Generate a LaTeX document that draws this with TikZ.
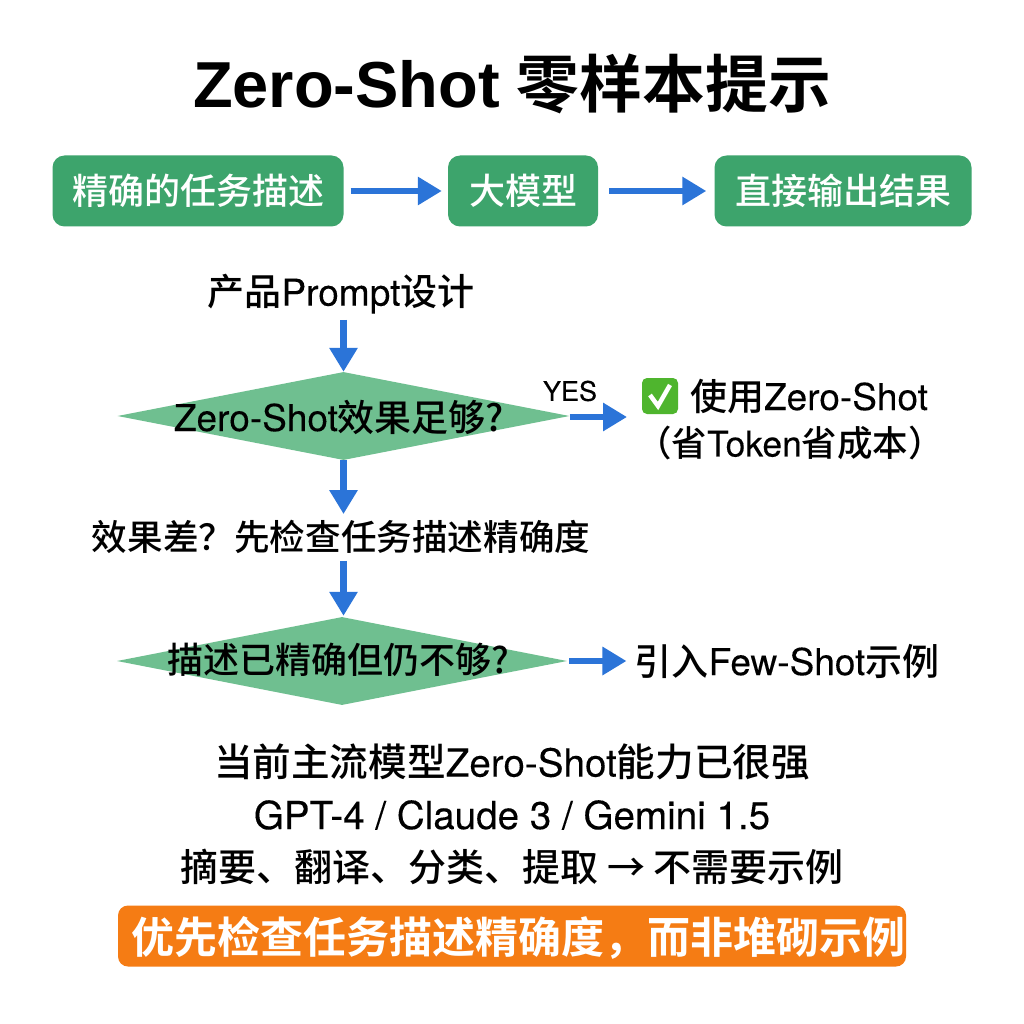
\documentclass[tikz,border=0pt]{standalone}
\usepackage{fontspec}
\setmainfont{Noto Sans CJK SC Medium}
\newfontfamily\lat{TeX Gyre Heros}[FakeBold=0.15]
\newfontfamily\latb{Liberation Sans Bold}
\newfontfamily\cjkb{Noto Sans CJK SC Bold}
\usetikzlibrary{shapes.geometric,arrows.meta}
\definecolor{gr}{HTML}{3DA46C}
\definecolor{lg}{HTML}{6FBF90}
\definecolor{bl}{HTML}{2B74D8}
\definecolor{og}{HTML}{F57C14}
\definecolor{ck}{HTML}{4FB52E}
\tikzset{
 box/.style={fill=gr,rounded corners=12pt,text=white,font=\fontsize{36}{36}\selectfont,inner sep=0pt,anchor=center},
 dia/.style={diamond,fill=lg,inner sep=0pt,aspect=5.11},
 txt/.style={inner sep=0pt,font=\fontsize{36}{36}\selectfont,anchor=center},
 wid/.style={inner sep=0pt,font=\fontsize{37}{37}\selectfont,anchor=center},
 low/.style={inner sep=0pt,font=\fontsize{38.6}{38.6}\selectfont,anchor=center},
 arr/.style={draw=bl,line width=6.5pt,-{Triangle[length=24pt,width=27pt,fill=bl]}}
}
\begin{document}
\begin{tikzpicture}[x=1pt,y=-1pt]
\useasboundingbox (0,0) rectangle (1024,1024);
\fill[white] (0,0) rectangle (1024,1024);
\node[txt,font=\fontsize{65}{65}\selectfont] (title) at (512,84) {{\latb Zero-Shot}\hspace{17pt}{\cjkb\fontsize{62.8}{62.8}\selectfont 零样本提示}};
\node[box,minimum width=291pt,minimum height=71pt] (a) at (198,191) {精确的任务描述};
\node[box,minimum width=150pt,minimum height=71pt] (b) at (523,191) {大模型};
\node[box,minimum width=257pt,minimum height=71pt] (c) at (843,191) {直接输出结果};
\draw[arr,shorten <=7pt,shorten >=6pt] (a) -- (b);
\draw[arr,shorten <=11pt,shorten >=8pt] (b) -- (c);
\node[wid] (p) at (341,294) {产品{\lat Prompt}设计};
\node[dia,minimum width=452pt,minimum height=88pt] (d1) at (343.5,416) {};
\node[wid] (d1t) at (339,417) {{\lat Zero-Shot}效果足够?};
\draw[arr,shorten <=6pt] (d1.north |- p.south) -- (d1.north);
\node[inner sep=0pt,font=\fontsize{27}{27}\selectfont\lat] (yes) at (570,391) {YES};
\node[wid] (u1) at (809,396) {使用{\lat Zero-Shot}};
\node[txt,font=\fontsize{35.5}{35.5}\selectfont] (u2) at (790,443) {（省{\lat Token}省成本）};
\coordinate (e1) at (627,417);
\draw[arr] (d1.east |- e1) -- (e1);
\fill[ck,rounded corners=5pt] (642,378) rectangle (678,414);
\draw[white,line width=4.5pt] (650,395) -- (658,406) -- (670,385);
\node[txt,font=\fontsize{35.6}{35.6}\selectfont] (q) at (341,537) {效果差？先检查任务描述精确度};
\draw[arr,shorten >=6pt,shorten <=0pt] (d1.south) -- (d1.south |- q.north);
\node[dia,minimum width=450pt,minimum height=88pt] (d2) at (342,661) {};
\node[txt] (d2t) at (338,660) {描述已精确但仍不够?};
\draw[arr,shorten <=7pt,shorten >=1pt] (d1.south |- q.south) -- (d1.south |- d2.north);
\node[wid] (f) at (787,661) {引入{\lat Few-Shot}示例};
\draw[arr,shorten <=2pt,shorten >=8pt] (d2.east) -- (f.west |- d2.east);
\node[low] (l1) at (512,762) {当前主流模型{\lat Zero-Shot}能力已很强};
\node[low] (l2) at (512,815) {\lat GPT-4 / Claude 3 / Gemini 1.5};
\node[low,font=\fontsize{38}{38}\selectfont] (l3) at (512,867) {摘要、翻译、分类、提取 → 不需要示例};
\node[fill=og,rounded corners=10pt,minimum width=788pt,minimum height=61pt,inner sep=0pt] (o) at (512,936) {};
\node[text=white,inner sep=0pt,font=\fontsize{43}{43}\selectfont\cjkb] (ot) at (518,938) {优先检查任务描述精确度，而非堆砌示例};
\end{tikzpicture}
\end{document}
